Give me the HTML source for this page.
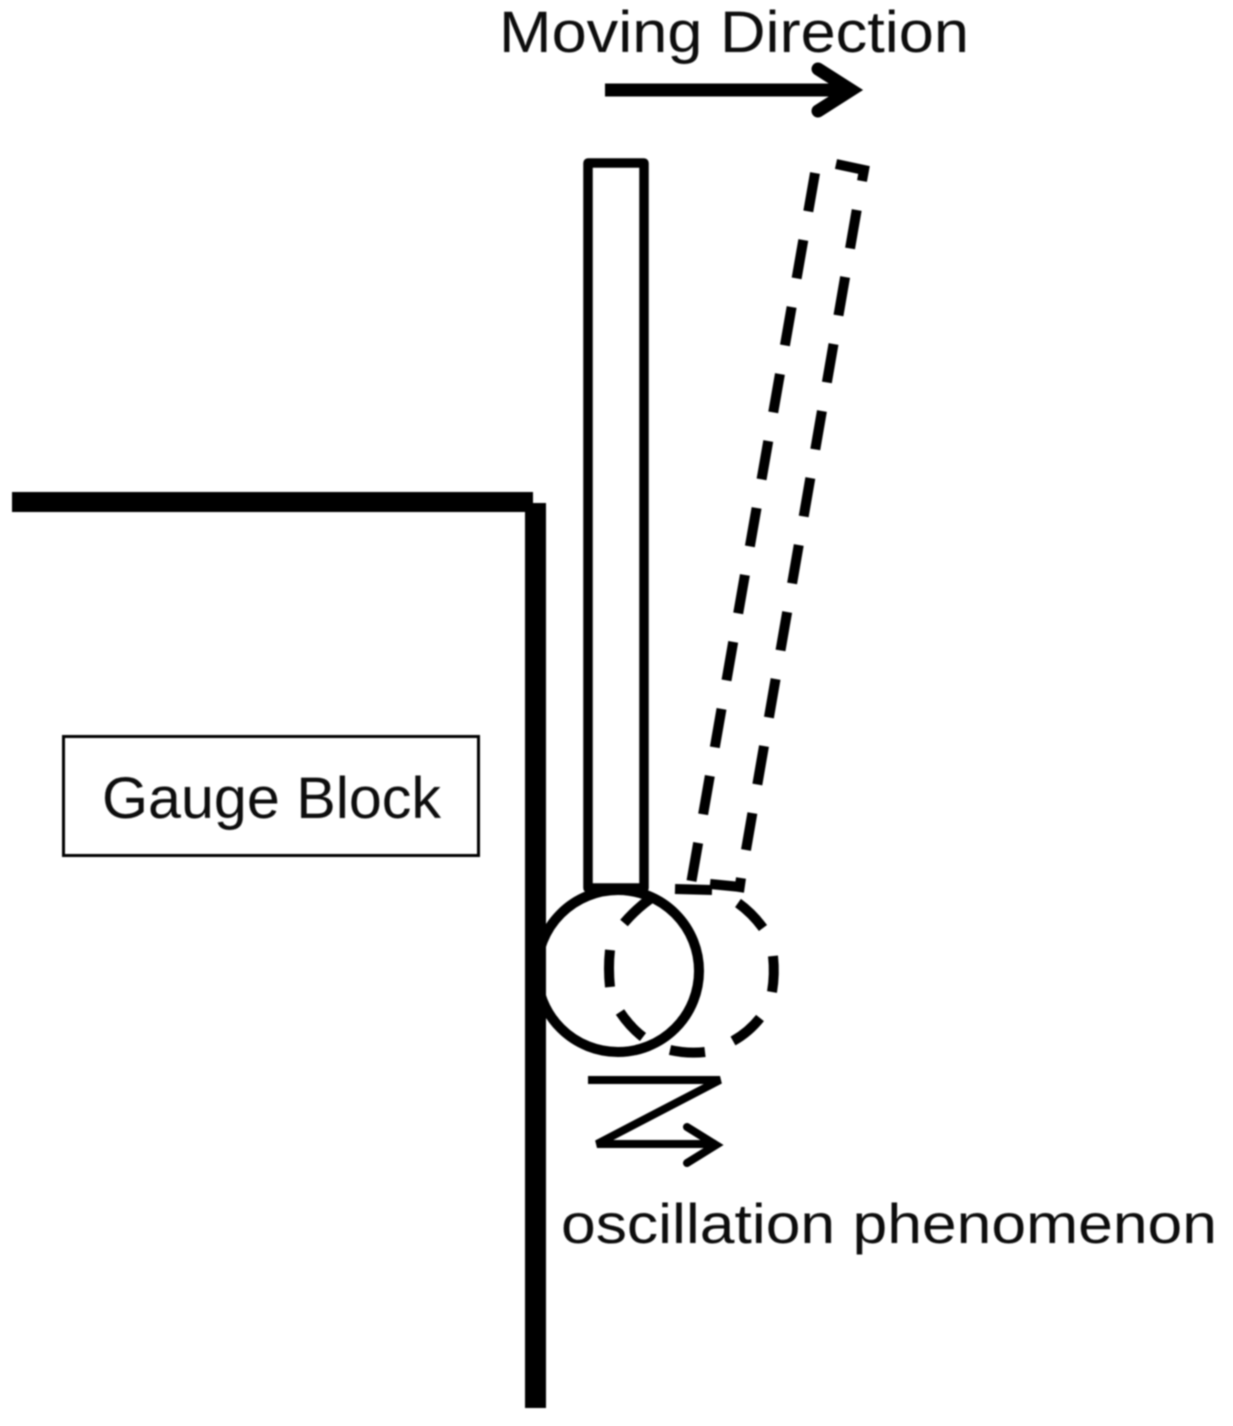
<!DOCTYPE html>
<html>
<head>
<meta charset="utf-8">
<style>
html,body{margin:0;padding:0;background:#fff}
svg{display:block}
text{font-family:"Liberation Sans",sans-serif;fill:#111}
</style>
</head>
<body>
<svg width="1233" height="1426" viewBox="0 0 1233 1426" xmlns="http://www.w3.org/2000/svg">
<defs><filter id="b" x="-5%" y="-5%" width="110%" height="110%"><feGaussianBlur stdDeviation="0.8"/></filter></defs>
<rect width="1233" height="1426" fill="#fff"/>
<g filter="url(#b)">
  <text x="499" y="52" font-size="58" textLength="470" lengthAdjust="spacingAndGlyphs">Moving Direction</text>
  <text x="102" y="818" font-size="58" textLength="339" lengthAdjust="spacingAndGlyphs">Gauge Block</text>
  <text x="561" y="1243" font-size="56" textLength="656" lengthAdjust="spacingAndGlyphs">oscillation phenomenon</text>

  <!-- moving arrow -->
  <g fill="none" stroke="#000">
    <path d="M605 90H848" stroke-width="13"/>
    <path d="M818 69L851 90L818 111" stroke-width="13" stroke-linecap="round" stroke-linejoin="miter"/>
  </g>

  <!-- solid probe stem -->
  <rect x="588" y="163" width="56" height="725" fill="none" stroke="#000" stroke-width="9.5" stroke-linejoin="round"/>

  <!-- dashed probe stem -->
  <g fill="none" stroke="#000" stroke-width="10">
    <path d="M815 173L691.5 881" stroke-dasharray="39 29"/>
    <path d="M856.7 210L746 850" stroke-dasharray="39 29"/>
    <path d="M836 164L864 170L862 181"/>
    <path d="M675 889L712 890"/>
    <path d="M710 884L741 887M741 878L739 892"/>
  </g>

  <!-- solid circle -->
  <circle cx="618" cy="971" r="81" fill="none" stroke="#000" stroke-width="10"/>

  <!-- dashed circle -->
  <g fill="none" stroke="#000" stroke-width="10">
    <path d="M624 923Q636 909 650 899"/>
    <path d="M610 950Q608 968 610 987"/>
    <path d="M620 1012Q630 1027 643 1037"/>
    <path d="M670 1050Q688 1054 705 1052"/>
    <path d="M733 1041Q749 1032 760 1018"/>
    <path d="M773 956Q775 974 772 992"/>
    <path d="M738 903Q752 913 763 928"/>
  </g>

  <!-- gauge block walls -->
  <rect x="12" y="492" width="521" height="20" fill="#000"/>
  <rect x="525" y="503" width="21" height="905" fill="#000"/>

  <!-- label box -->
  <rect x="63.5" y="736.5" width="415" height="119" fill="none" stroke="#000" stroke-width="3"/>

  <!-- oscillation zigzag arrow -->
  <g fill="none" stroke="#000" stroke-width="8" stroke-linejoin="bevel">
    <path d="M588 1080H720L597 1144H716"/>
    <path d="M687 1127L716 1145L687 1163" stroke-linecap="round" stroke-linejoin="miter"/>
  </g>
</g>
</svg>
</body>
</html>
